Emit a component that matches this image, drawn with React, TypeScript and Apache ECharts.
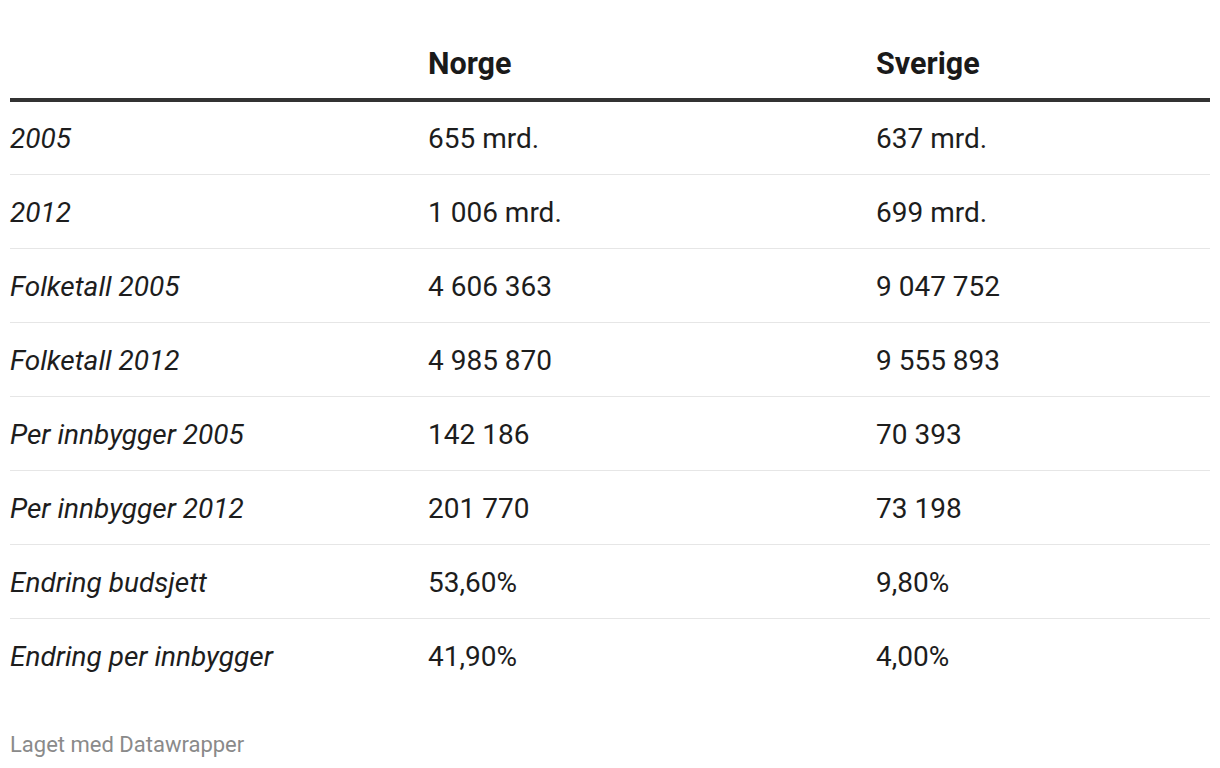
import React, { useEffect, useRef } from "react";
import * as echarts from "echarts";

const columns = ["Norge", "Sverige"];
const rowLabels = [
  "2005",
  "2012",
  "Folketall 2005",
  "Folketall 2012",
  "Per innbygger 2005",
  "Per innbygger 2012",
  "Endring budsjett",
  "Endring per innbygger",
];
const norgeValues = [
  "655 mrd.",
  "1 006 mrd.",
  "4 606 363",
  "4 985 870",
  "142 186",
  "201 770",
  "53,60%",
  "41,90%",
];
const sverigeValues = [
  "637 mrd.",
  "699 mrd.",
  "9 047 752",
  "9 555 893",
  "70 393",
  "73 198",
  "9,80%",
  "4,00%",
];
const footer = "Laget med Datawrapper";

export default function App() {
  const ref = useRef<HTMLDivElement>(null);
  useEffect(() => {
    if (!ref.current) return;
    const chart = echarts.init(ref.current, null, { renderer: "svg" });
    const left = 10;
    const right = 1210;
    const colX = [428, 876];
    const headerY = 63;
    const firstRowY = 138;
    const rowH = 74;
    const font = "Roboto, 'Noto Sans', sans-serif";
    const elements: any[] = [];
    columns.forEach((c, i) => {
      elements.push({
        type: "text",
        x: colX[i],
        y: headerY,
        style: {
          text: c,
          fill: "#1a1a1a",
          font: `bold 30.5px ${font}`,
          textVerticalAlign: "middle",
          textAlign: "left",
        },
      });
    });
    elements.push({
      type: "rect",
      shape: { x: left, y: 98, width: right - left, height: 4 },
      style: { fill: "#333333" },
    });
    const valueCols = [norgeValues, sverigeValues];
    rowLabels.forEach((lab, r) => {
      const cy = firstRowY + r * rowH;
      elements.push({
        type: "text",
        x: left,
        y: cy,
        style: {
          text: lab,
          fill: "#1d1d1d",
          font: `italic 28px ${font}`,
          textVerticalAlign: "middle",
          textAlign: "left",
        },
      });
      valueCols.forEach((vals, ci) => {
        elements.push({
          type: "text",
          x: colX[ci],
          y: cy,
          style: {
            text: vals[r],
            fill: "#1d1d1d",
            font: `28px ${font}`,
            textVerticalAlign: "middle",
            textAlign: "left",
          },
        });
      });
      if (r < rowLabels.length - 1) {
        elements.push({
          type: "rect",
          shape: { x: left, y: cy + 36, width: right - left, height: 1 },
          style: { fill: "#e6e6e6" },
        });
      }
    });
    elements.push({
      type: "text",
      x: left,
      y: 744,
      style: {
        text: footer,
        fill: "#8a8a8a",
        font: `22px ${font}`,
        textVerticalAlign: "middle",
        textAlign: "left",
      },
    });
    chart.setOption({
      animation: false,
      backgroundColor: "#ffffff",
      graphic: { elements },
    });
    return () => chart.dispose();
  }, []);
  return (
    <div
      ref={ref}
      style={{ position: "absolute", left: 0, top: 0, width: 1220, height: 768 }}
    />
  );
}
